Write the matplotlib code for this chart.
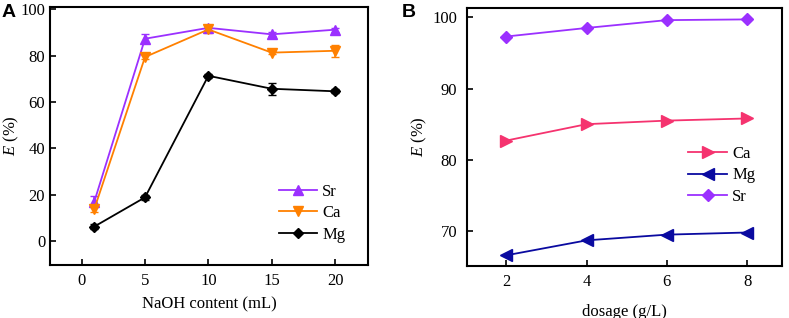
import matplotlib
matplotlib.use("Agg")
import matplotlib.pyplot as plt

plt.rcParams['font.family'] = ['Liberation Serif', 'DejaVu Serif']
plt.rcParams['mathtext.fontset'] = 'custom'
plt.rcParams['mathtext.it'] = 'Liberation Serif:italic'
plt.rcParams['mathtext.rm'] = 'Liberation Serif'

# Panel A data
naoh = [1, 5, 10, 15, 20]
sr_a = [17.0, 87.3, 92.0, 89.2, 91.2]
sr_a_err = [2.5, 2.0, 1.2, 0.8, 0.8]
ca_a = [13.8, 79.4, 91.3, 81.3, 82.1]
ca_a_err = [1.5, 1.0, 1.5, 0.8, 2.5]
mg_a = [6.2, 18.8, 71.3, 65.7, 64.6]
mg_a_err = [1.0, 1.0, 0.8, 2.5, 0.8]
a_labels = ['Sr', 'Ca', 'Mg']
a_xticks = [0, 5, 10, 15, 20]
a_yticks = [0, 20, 40, 60, 80, 100]

# Panel B data
dosage = [2, 4, 6, 8]
ca_b = [82.7, 85.0, 85.5, 85.8]
mg_b = [66.6, 68.7, 69.5, 69.8]
sr_b = [97.3, 98.5, 99.6, 99.7]
b_xticks = [2, 4, 6, 8]
b_yticks = [70, 80, 90, 100]

W, H = 789, 318
fig = plt.figure(figsize=(W / 100, H / 100), dpi=100)
axA = fig.add_axes([50 / W, 1 - 265 / H, (368 - 50) / W, (265 - 7) / H])
axB = fig.add_axes([467 / W, 1 - 266 / H, (782 - 467) / W, (266 - 8) / H])

fs = 12
purple = '#9B30FF'
orange = '#FF8000'
pink = '#F5336F'
navy = '#0A0AA0'

hs = []
for y, e, c, m, ms, lab in [(sr_a, sr_a_err, purple, '^', 7, a_labels[0]),
                            (ca_a, ca_a_err, orange, 'v', 7, a_labels[1]),
                            (mg_a, mg_a_err, 'black', 'D', 4.8, a_labels[2])]:
    eb = axA.errorbar(naoh, y, yerr=e, color=c, marker=m, ms=ms, lw=1.3,
                      elinewidth=1.1, capsize=3, label=lab)
    hs.append(eb.lines[0])
axA.set_xlim(-2.5, 22.6)
axA.set_ylim(-10.4, 101)
axA.set_xticks(a_xticks)
axA.set_yticks(a_yticks)
axA.set_xlabel('NaOH content (mL)', fontsize=fs, labelpad=5)
axA.set_ylabel(r'$E$ (%)', fontsize=fs)
axA.yaxis.set_label_coords(-0.091, 0.5)
axA.legend(hs, a_labels, loc='upper left', bbox_to_anchor=(0.72, 0.314), frameon=False,
           fontsize=fs, handlelength=2.3, handletextpad=0.3, labelspacing=0.32,
           borderaxespad=0, borderpad=0)

axB.plot(dosage, ca_b, color=pink, marker='>', ms=8, lw=1.3, label='Ca')
axB.plot(dosage, mg_b, color=navy, marker='<', ms=8, lw=1.3, label='Mg')
axB.plot(dosage, sr_b, color=purple, marker='D', ms=6, lw=1.3, label='Sr')
axB.set_xlim(1.02, 8.87)
axB.set_ylim(65.1, 101.3)
axB.set_xticks(b_xticks)
axB.set_yticks(b_yticks)
axB.set_xlabel('dosage (g/L)', fontsize=fs, labelpad=9.5)
axB.set_ylabel(r'$E$ (%)', fontsize=fs)
axB.yaxis.set_label_coords(-0.12, 0.5)
axB.legend(loc='upper left', bbox_to_anchor=(0.7016, 0.465), frameon=False, fontsize=fs,
           handlelength=2.35, handletextpad=0.3, labelspacing=0.32,
           borderaxespad=0, borderpad=0)

for ax in (axA, axB):
    ax.tick_params(direction='in', labelsize=fs, length=4, width=1.2, top=False, right=False)
    ax.tick_params(axis='x', pad=6)
    for s in ax.spines.values():
        s.set_linewidth(1.5)
axB.tick_params(axis='y', pad=7)

fig.text(2 / W, 1 - 17 / H, 'A', fontsize=14, fontweight='bold', family='Liberation Sans')
fig.text(402 / W, 1 - 17 / H, 'B', fontsize=14, fontweight='bold', family='Liberation Sans')

fig.savefig('out.png', dpi=100)
